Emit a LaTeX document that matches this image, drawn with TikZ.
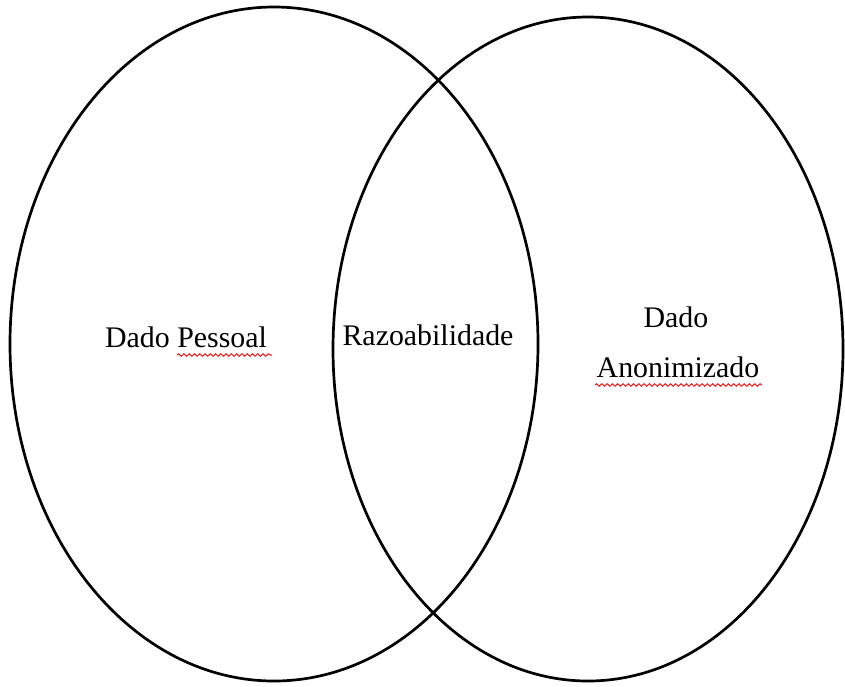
\documentclass[tikz,border=0pt]{standalone}
\usepackage{fontspec}
\setmainfont{Liberation Serif}
\usepackage{tikz}
\usetikzlibrary{positioning,decorations.pathmorphing}
\definecolor{spellred}{RGB}{215,50,45}
\tikzset{
  setline/.style={line width=2.3pt},
  label/.style={font=\fontsize{25.5}{30}\selectfont, anchor=base, inner sep=0pt},
  spellmark/.style={spellred, line width=1pt, decorate, decoration={snake, amplitude=1pt, segment length=4.5pt}}
}
\begin{document}
\begin{tikzpicture}[x=0.03cm, y=-0.03cm]
\useasboundingbox (0,0) rectangle (845,686);
% the two sets
\draw[setline] (274,344) ellipse [x radius=264, y radius=337];
\draw[setline] (588,349) ellipse [x radius=255, y radius=332];
% labels
\node[label] (pessoal) at (186,347) {Dado Pessoal};
\node[label] (razo) at (428,345) {Razoabilidade};
\node[label] (dado) at (676,327) {Dado};
\node[label] (anon) at (678,377) {Anonimizado};
% spell check marks
\draw[spellmark] (177,355) -- (272,355);
\draw[spellmark] (595,385) -- (762,385);
\end{tikzpicture}
\end{document}
